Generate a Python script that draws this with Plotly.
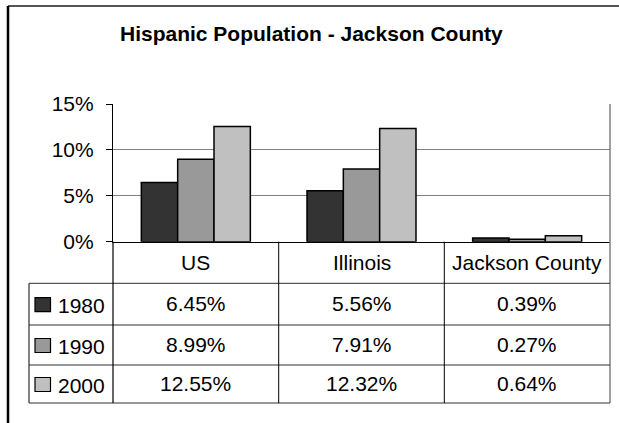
import plotly.graph_objects as go

title = "Hispanic Population - Jackson County"
categories = ["US", "Illinois", "Jackson County"]
years = ["1980", "1990", "2000"]
values_1980 = [6.45, 5.56, 0.39]
values_1990 = [8.99, 7.91, 0.27]
values_2000 = [12.55, 12.32, 0.64]
series = [values_1980, values_1990, values_2000]
colors = ["#333333", "#999999", "#C0C0C0"]
y_ticks = [0, 5, 10, 15]
y_tick_text = ["0%", "5%", "10%", "15%"]

W, H = 619, 423
def X(px):
    return px / W
def Y(py):
    return 1 - py / H

FONT = "Liberation Sans, Arial, sans-serif"

fig = go.Figure()
for yr, vals, col in zip(years, series, colors):
    fig.add_trace(go.Bar(x=categories, y=vals, name=yr, marker=dict(color=col, line=dict(color="black", width=1.5)),
                         showlegend=False))

plot_l, plot_r, plot_t, plot_b = 113, 610, 104, 241.7
fig.update_layout(
    width=W, height=H, autosize=False,
    margin=dict(l=0, r=0, t=0, b=0, pad=0, autoexpand=False),
    paper_bgcolor="white", plot_bgcolor="white",
    barmode="group", bargap=0.342, bargroupgap=0,
    font=dict(family=FONT, size=21, color="black"),
    xaxis=dict(domain=[X(plot_l), X(plot_r)], range=[-0.5, 2.5], showticklabels=False, ticks="",
               showline=True, linecolor="black", linewidth=1, showgrid=False, fixedrange=True, automargin=False),
    yaxis=dict(domain=[Y(plot_b), Y(plot_t)], range=[0, 15], tickmode="array", tickvals=y_ticks, ticktext=y_tick_text,
               ticks="outside", ticklen=6, tickcolor="black", ticklabelstandoff=8,
               showline=True, linecolor="black", linewidth=1.2,
               showgrid=True, gridcolor="#808080", gridwidth=1, zeroline=False,
               tickfont=dict(size=21, family=FONT), fixedrange=True, automargin=False),
)

shapes = []
def line(x0, y0, x1, y1, color="black", width=1):
    shapes.append(dict(type="line", xref="paper", yref="paper", x0=X(x0), y0=Y(y0), x1=X(x1), y1=Y(y1),
                       line=dict(color=color, width=width)))

# outer frame
line(8, 6, 625, 6, "#555555", 2)
line(8, 6, 8, 430, "black", 2.5)

# plot right border
line(610, plot_t, 610, 403, "#808080", 1.5)

# table lines
row_lines = [283.3, 325, 365, 403]
for ry in row_lines:
    line(29, ry, 610, ry, "#303030", 1)
line(29, 283.3, 29, 403, "#303030", 1.2)
line(113, plot_b, 113, 403, "black", 1.2)
for cx in [278.7, 444.3]:
    line(cx, plot_b, cx, 403, "black", 1)

annotations = []
annotations.append(dict(text="<b>" + title + "</b>", xref="paper", yref="paper", x=X(311.6), y=Y(33.5),
                        showarrow=False, xanchor="center", yanchor="middle", font=dict(size=21, family=FONT)))
for c in categories:
    annotations.append(dict(text=c, xref="x", yref="paper", x=c, y=Y(262), showarrow=False,
                            xanchor="center", yanchor="middle", font=dict(size=21, family=FONT)))

row_centers = [(row_lines[i] + row_lines[i + 1]) / 2 for i in range(3)]
for yr, vals, col, rc in zip(years, series, colors, row_centers):
    shapes.append(dict(type="rect", xref="paper", yref="paper", x0=X(35), x1=X(50.5), y0=Y(rc - 6.5), y1=Y(rc + 7.5),
                       fillcolor=col, line=dict(color="black", width=1.2)))
    annotations.append(dict(text=yr, xref="paper", yref="paper", x=X(56), y=Y(rc + 1), showarrow=False,
                            xanchor="left", yanchor="middle", font=dict(size=21, family=FONT)))
    for c, v in zip(categories, vals):
        annotations.append(dict(text=f"{v:.2f}%", xref="x", yref="paper", x=c, y=Y(rc - 0.5), showarrow=False,
                                xanchor="center", yanchor="middle", font=dict(size=21, family=FONT)))

fig.update_layout(shapes=shapes, annotations=annotations)
fig.write_html("out.html", config={"responsive": False, "displayModeBar": False},
               default_width="619px", default_height="423px",
               post_script="document.body.style.margin='0';document.body.style.overflow='hidden';")
